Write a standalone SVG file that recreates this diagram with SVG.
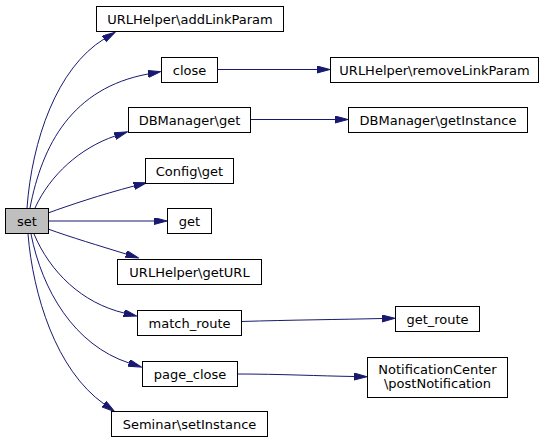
<svg xmlns="http://www.w3.org/2000/svg" width="549" height="443" viewBox="0 0 549 443">
<style>
.n rect{fill:#fff;stroke:#000;stroke-width:1}
.n text{font-family:"DejaVu Sans",sans-serif;font-size:13px;text-anchor:middle;fill:#000}
.e path{fill:none;stroke:#191970;stroke-width:1;marker-end:url(#ah)}
</style>
<defs>
<marker id="ah" markerUnits="userSpaceOnUse" markerWidth="14" markerHeight="8" refX="0" refY="3.5" orient="auto">
<path d="M0,0 L13,3.5 L0,7 z" fill="#191970" stroke="#191970" stroke-width="1"/>
</marker>
</defs>
<rect width="549" height="443" fill="#fff"/>
<g id="edges" class="e">
<path d="M27,208 C32,140 57,68 104,39"/>
<path d="M30,208 C42,145 72,88 148,74"/>
<path d="M35,208 C50,175 80,148 115,136"/>
<path d="M48,213 C70,205 100,195 134,186"/>
<path d="M48,221 L154,221"/>
<path d="M48,229 C70,237 100,246 126,254"/>
<path d="M34,234 C50,272 82,303 124,313"/>
<path d="M31,234 C42,290 74,345 129,363"/>
<path d="M28,234 C33,295 56,370 104,404"/>
<path d="M217,69.5 L317,69.5"/>
<path d="M250,119.5 L335,119.5"/>
<path d="M241,321.5 C290,320 340,319.5 382,318.5"/>
<path d="M237,374 C280,374 320,376 354,376.5"/>
</g>
<g id="node-set" class="n"><rect x="5.5" y="208.5" width="43" height="25" style="fill:#bfbfbf"/><text x="27" y="225.5">set</text></g>
<g id="node-addLinkParam" class="n"><rect x="96.5" y="6.5" width="187" height="25"/><text x="190" y="23.5">URLHelper\addLinkParam</text></g>
<g id="node-close" class="n"><rect x="161.5" y="57.5" width="56" height="25"/><text x="189.5" y="74.5">close</text></g>
<g id="node-dbget" class="n"><rect x="128.5" y="107.5" width="122" height="25"/><text x="189.5" y="124.5">DBManager\get</text></g>
<g id="node-configget" class="n"><rect x="145.5" y="158.5" width="88" height="25"/><text x="189.5" y="175.5">Config\get</text></g>
<g id="node-get" class="n"><rect x="167.5" y="208.5" width="44" height="25"/><text x="189.5" y="225.5">get</text></g>
<g id="node-getURL" class="n"><rect x="117.5" y="259.5" width="144" height="25"/><text x="189.5" y="276.5">URLHelper\getURL</text></g>
<g id="node-match_route" class="n"><rect x="137.5" y="310.5" width="104" height="25"/><text x="189.5" y="327.5">match_route</text></g>
<g id="node-page_close" class="n"><rect x="142.5" y="361.5" width="95" height="25"/><text x="190" y="378.5">page_close</text></g>
<g id="node-setInstance" class="n"><rect x="111.5" y="411.5" width="156" height="25"/><text x="189.5" y="428.5">Seminar\setInstance</text></g>
<g id="node-removeLinkParam" class="n"><rect x="330.5" y="57.5" width="208" height="25"/><text x="434.5" y="74.5">URLHelper\removeLinkParam</text></g>
<g id="node-getInstance" class="n"><rect x="348.5" y="107.5" width="179" height="25"/><text x="438" y="124.5">DBManager\getInstance</text></g>
<g id="node-get_route" class="n"><rect x="395.5" y="306.5" width="84" height="25"/><text x="437.5" y="323.5">get_route</text></g>
<g id="node-postNotification" class="n"><rect x="367.5" y="357.5" width="140" height="40"/><text x="437.5" y="373.5">NotificationCenter</text><text x="437.5" y="388">\postNotification</text></g>
</svg>
